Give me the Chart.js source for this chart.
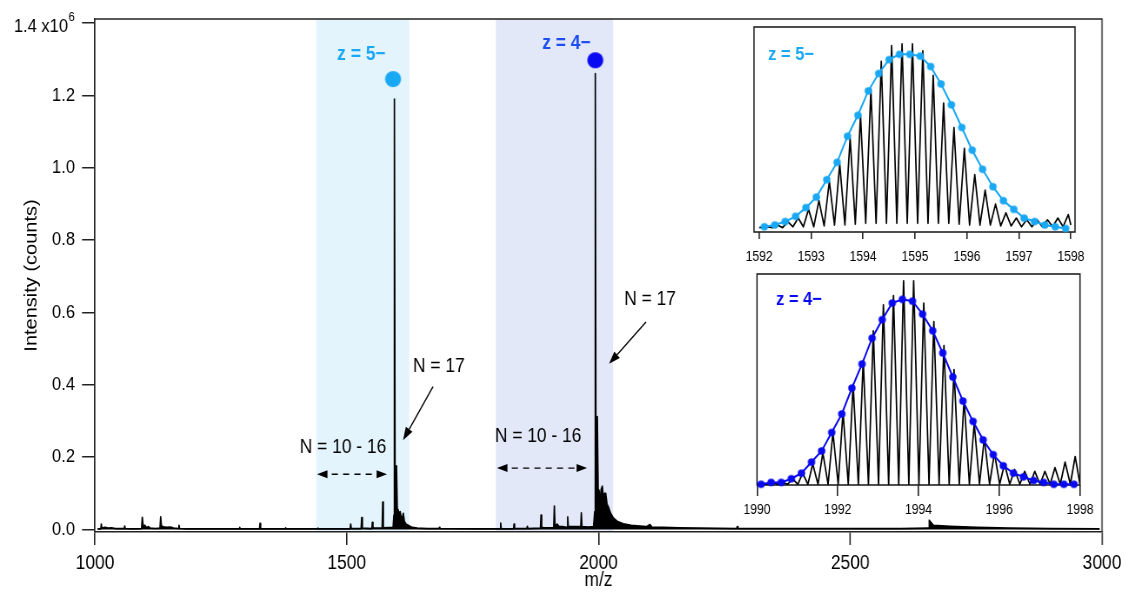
<!DOCTYPE html>
<html>
<head>
<meta charset="utf-8">
<script src="https://cdn.jsdelivr.net/npm/chart.js@4.4.1/dist/chart.umd.min.js"></script>
<style>
  html, body { margin: 0; padding: 0; background: #fff; }
  #wrap { position: relative; width: 1125px; height: 594px; }
  #wrap canvas { position: absolute; }
  #main { left: 0; top: 0; }
  #inset5 { left: 715px; top: 20px; }
  #inset4 { left: 715px; top: 266px; }
</style>
</head>
<body>
<div id="wrap">
  <!-- the figure is drawn wider and squeezed back, like the source figure's narrow lettering -->
  <canvas id="main" width="1294" height="594" style="width:1125px;height:594px"></canvas>
  <canvas id="inset5" width="460" height="250" style="width:400px;height:250px"></canvas>
  <canvas id="inset4" width="460" height="260" style="width:400px;height:260px"></canvas>
</div>
<script>
const FONT = "'Liberation Sans', Arial, Helvetica, sans-serif";
const SX = 1294 / 1125; // horizontal stretch of the drawing surface

// main spectrum axes
const mzTicks = [1000, 1500, 2000, 2500, 3000];
const intensityTicks = [0, 0.2, 0.4, 0.6, 0.8, 1.0, 1.2, 1.4]; // x10^6 counts

// full mass spectrum (intensity in 10^6 counts)
const spectrumMz = [
  1005, 1011.5, 1012.5, 1013.5, 1020, 1026, 1033, 1040, 1050, 1058, 1059, 1060, 1075,
  1092.5, 1093.9, 1095.5, 1099, 1102, 1106, 1110, 1120, 1129, 1130.4, 1132, 1136, 1142, 1150, 1156,
  1165.5, 1166.8, 1168, 1180, 1230, 1286.4, 1287.4, 1288.4, 1326.7, 1327.7, 1328.9, 1378, 1378.7, 1379.5,
  1442, 1443, 1444, 1490, 1506.8, 1507.8, 1509, 1528.5, 1529.7, 1531, 1549.8, 1550.8, 1552,
  1570.2, 1571.4, 1572.6, 1592, 1593.6, 1594.6, 1596, 1598.8, 1600.5, 1602, 1604, 1606, 1608, 1610,
  1612.4, 1614.5, 1618, 1622, 1630, 1640, 1660, 1683, 1684, 1685, 1750,
  1804.7, 1805.7, 1806.8, 1831.2, 1832.2, 1833.3, 1857.6, 1858.6, 1859.7, 1884.6, 1885.8, 1887, 1892,
  1911, 1912.3, 1913.6, 1918, 1922, 1930, 1937.6, 1938.8, 1940, 1950, 1964.7, 1965.9, 1967.2, 1980, 1990,
  1992.5, 1993.6, 1995, 1997.6, 1999.5, 2001, 2003, 2005, 2007.6, 2010, 2012, 2014.3, 2017, 2019.5,
  2024, 2029.5, 2038, 2049.3, 2065, 2082.4, 2095, 2102.3, 2106, 2128.7, 2160, 2200,
  2274.5, 2275.7, 2277, 2400, 2500, 2600, 2655.5, 2657, 2665, 2698, 2751, 2817, 2900, 2995
];
const spectrumIntensity = [
  0.002, 0.002, 0.015, 0.004, 0.006, 0.004, 0.005, 0.003, 0.003, 0.003, 0.010, 0.003, 0.002,
  0.003, 0.034, 0.010, 0.012, 0.006, 0.008, 0.004, 0.003, 0.004, 0.035, 0.010, 0.008, 0.006, 0.007, 0.004,
  0.003, 0.012, 0.003, 0.002, 0.002, 0.002, 0.006, 0.002, 0.002, 0.017, 0.002, 0.002, 0.005, 0.002,
  0.002, 0.004, 0.002, 0.002, 0.002, 0.015, 0.003, 0.003, 0.033, 0.004, 0.003, 0.020, 0.004,
  0.004, 0.076, 0.005, 0.006, 0.04, 1.19, 0.09, 0.176, 0.04, 0.055, 0.04, 0.05, 0.035, 0.03,
  0.045, 0.022, 0.015, 0.012, 0.006, 0.004, 0.003, 0.003, 0.006, 0.003, 0.002,
  0.002, 0.018, 0.003, 0.002, 0.015, 0.003, 0.003, 0.009, 0.003, 0.004, 0.040, 0.006, 0.005,
  0.005, 0.065, 0.012, 0.015, 0.008, 0.008, 0.006, 0.035, 0.008, 0.008, 0.008, 0.046, 0.008, 0.007, 0.008,
  0.05, 1.26, 0.12, 0.312, 0.08, 0.109, 0.07, 0.11, 0.12, 0.08, 0.10, 0.10, 0.07, 0.063,
  0.045, 0.032, 0.022, 0.016, 0.012, 0.010, 0.008, 0.014, 0.007, 0.006, 0.005, 0.004,
  0.003, 0.008, 0.003, 0.003, 0.003, 0.003, 0.004, 0.026, 0.012, 0.009, 0.006, 0.004, 0.003, 0.002
];

// apex markers of the two charge states
const chargeLabels = ["z = 5\u2212", "z = 4\u2212"];
const apexMz = [1592, 1993.6];
const apexIntensity = [1.245, 1.297];

// inset z = 5-: measured isotope profile and fitted distribution (relative)
const inset5Ticks = [1592, 1593, 1594, 1595, 1596, 1597, 1598];
const profile5Mz = [
  1592.00, 1592.15, 1592.25, 1592.35, 1592.45, 1592.55, 1592.65, 1592.75, 1592.85, 1592.95,
  1593.05, 1593.15, 1593.25, 1593.35, 1593.45, 1593.55, 1593.65, 1593.75, 1593.85, 1593.95,
  1594.05, 1594.15, 1594.25, 1594.35, 1594.45, 1594.55, 1594.65, 1594.75, 1594.85, 1594.95,
  1595.05, 1595.15, 1595.25, 1595.35, 1595.45, 1595.55, 1595.65, 1595.75, 1595.85, 1595.95,
  1596.05, 1596.15, 1596.25, 1596.35, 1596.45, 1596.55, 1596.65, 1596.75, 1596.85, 1596.95,
  1597.05, 1597.15, 1597.25, 1597.35, 1597.45, 1597.55, 1597.65, 1597.75, 1597.85, 1597.95, 1598.00
];
const profile5Int = [
  0.005, 0.01, 0.005, 0.02, 0.005, 0.04, 0.01, 0.06, 0.01, 0.11,
  0.01, 0.16, 0.015, 0.27, 0.02, 0.37, 0.02, 0.52, 0.025, 0.65,
  0.03, 0.80, 0.03, 0.96, 0.03, 1.05, 0.03, 1.06, 0.03, 1.06,
  0.03, 1.02, 0.03, 0.88, 0.03, 0.72, 0.03, 0.58, 0.025, 0.46,
  0.02, 0.31, 0.02, 0.22, 0.02, 0.14, 0.015, 0.09, 0.015, 0.06,
  0.01, 0.05, 0.01, 0.05, 0.01, 0.05, 0.01, 0.06, 0.01, 0.08, 0.02
];
const fit5Mz = [
  1592.1, 1592.3, 1592.5, 1592.7, 1592.9, 1593.1, 1593.3, 1593.5, 1593.7, 1593.9,
  1594.1, 1594.3, 1594.5, 1594.7, 1594.9, 1595.1, 1595.3, 1595.5, 1595.7, 1595.9,
  1596.1, 1596.3, 1596.5, 1596.7, 1596.9, 1597.1, 1597.3, 1597.5, 1597.7, 1597.9
];
const fit5Int = [
  0.01, 0.02, 0.04, 0.07, 0.12, 0.18, 0.28, 0.38, 0.53, 0.65,
  0.79, 0.89, 0.97, 1.00, 1.00, 0.99, 0.93, 0.83, 0.71, 0.58,
  0.45, 0.34, 0.24, 0.16, 0.11, 0.06, 0.04, 0.02, 0.01, 0.00
];

// inset z = 4-
const inset4Ticks = [1990, 1992, 1994, 1996, 1998];
const profile4Mz = [
  1990.00, 1990.13, 1990.26, 1990.38, 1990.51, 1990.63, 1990.76, 1990.88, 1991.01, 1991.13,
  1991.26, 1991.38, 1991.51, 1991.63, 1991.76, 1991.88, 1992.01, 1992.13, 1992.26, 1992.38,
  1992.51, 1992.63, 1992.76, 1992.88, 1993.01, 1993.13, 1993.26, 1993.38, 1993.51, 1993.63,
  1993.76, 1993.88, 1994.01, 1994.13, 1994.26, 1994.38, 1994.51, 1994.63, 1994.76, 1994.88,
  1995.01, 1995.13, 1995.26, 1995.38, 1995.51, 1995.63, 1995.76, 1995.88, 1996.01, 1996.13,
  1996.26, 1996.38, 1996.51, 1996.63, 1996.76, 1996.88, 1997.01, 1997.13, 1997.26, 1997.38,
  1997.51, 1997.63, 1997.76, 1997.88, 1998.00
];
const profile4Int = [
  0, 0.005, 0, 0.01, 0, 0.01, 0, 0.03, 0, 0.06,
  0, 0.11, 0, 0.17, 0, 0.28, 0, 0.39, 0, 0.54,
  0, 0.67, 0, 0.83, 0, 0.97, 0, 1.02, 0, 1.10,
  0, 1.10, 0, 0.98, 0, 0.88, 0, 0.75, 0, 0.62,
  0, 0.46, 0, 0.33, 0, 0.25, 0, 0.17, 0, 0.11,
  0, 0.08, 0, 0.07, 0, 0.07, 0, 0.07, 0, 0.09,
  0, 0.12, 0, 0.15, 0
];
const fit4Mz = [
  1990.10, 1990.35, 1990.60, 1990.85, 1991.10, 1991.35, 1991.60, 1991.85, 1992.10, 1992.35,
  1992.60, 1992.85, 1993.10, 1993.35, 1993.60, 1993.85, 1994.10, 1994.35, 1994.60, 1994.85,
  1995.10, 1995.35, 1995.60, 1995.85, 1996.10, 1996.35, 1996.60, 1996.85, 1997.10, 1997.35,
  1997.60, 1997.85
];
const fit4Int = [
  0.00, 0.01, 0.01, 0.03, 0.06, 0.12, 0.18, 0.28, 0.38, 0.52,
  0.65, 0.79, 0.89, 0.98, 1.00, 0.99, 0.92, 0.83, 0.71, 0.58,
  0.45, 0.34, 0.24, 0.16, 0.10, 0.06, 0.04, 0.02, 0.01, 0.00,
  0.00, 0.00
];

const CYAN = "#19a8f3";
const BLUE = "#0a0af0";

const toPoints = (xs, ys) => xs.map((x, i) => ({ x: x, y: ys[i] }));

// round dot for the stretched surface (wider by SX so it shows as a circle)
function dot(color, r) {
  const c = document.createElement("canvas");
  const w = Math.ceil(2 * r * SX) + 2, h = Math.ceil(2 * r) + 2;
  c.width = w;
  c.height = h;
  const g = c.getContext("2d");
  g.fillStyle = color;
  g.beginPath();
  g.ellipse(w / 2, h / 2, r * SX, r, 0, 0, Math.PI * 2);
  g.fill();
  return c;
}

// annotation layout (data coordinates)
const bands = [
  { from: 1439, to: 1624, color: "#e3f4fd" },
  { from: 1796, to: 2029, color: "#e3e8f9" }
];
const notes = [
  { text: "N = 17", x: 1683, y: 0.452 },
  { text: "N = 10 - 16", x: 1492.6, y: 0.228 },
  { text: "N = 10 - 16", x: 1880, y: 0.256 },
  { text: "N = 17", x: 2102.3, y: 0.635 }
];
const chargeNotes = [
  { x: 1481, y: 1.314, color: CYAN },
  { x: 1888.4, y: 1.344, color: "#1d4ef0" }
];
const arrows = [
  { from: [1671.3, 0.395], to: [1611.7, 0.247] },
  { from: [2094.3, 0.574], to: [2020.9, 0.458] }
];
const spans = [
  { from: 1440.9, to: 1579.9, y: 0.153 },
  { from: 1798.4, to: 1977.2, y: 0.170 }
];

function head(ctx, x1, y1, x2, y2, len, half) {
  const a = Math.atan2(y2 - y1, x2 - x1);
  const bx = x2 - len * Math.cos(a), by = y2 - len * Math.sin(a);
  ctx.beginPath();
  ctx.moveTo(x2, y2);
  ctx.lineTo(bx + half * Math.sin(a), by - half * Math.cos(a));
  ctx.lineTo(bx - half * Math.sin(a), by + half * Math.cos(a));
  ctx.closePath();
  ctx.fill();
  return [bx, by];
}

const mainDecor = {
  id: "mainDecor",
  beforeDatasetsDraw(chart) {
    const { ctx, chartArea: a, scales: { x } } = chart;
    ctx.save();
    bands.forEach(b => {
      const x1 = x.getPixelForValue(b.from), x2 = x.getPixelForValue(b.to);
      ctx.fillStyle = b.color;
      ctx.fillRect(x1, a.top, x2 - x1, a.bottom - a.top - 1);
    });
    ctx.restore();
  },
  afterDatasetsDraw(chart) {
    const { ctx, scales: { x, y } } = chart;
    ctx.save();
    ctx.fillStyle = "#000";
    ctx.strokeStyle = "#000";
    ctx.font = "20px " + FONT;
    ctx.textAlign = "center";
    ctx.textBaseline = "middle";
    notes.forEach(n => ctx.fillText(n.text, x.getPixelForValue(n.x), y.getPixelForValue(n.y)));

    ctx.lineWidth = 1.4;
    arrows.forEach(ar => {
      const x1 = x.getPixelForValue(ar.from[0]), y1 = y.getPixelForValue(ar.from[1]);
      const x2 = x.getPixelForValue(ar.to[0]), y2 = y.getPixelForValue(ar.to[1]);
      const [bx, by] = head(ctx, x1, y1, x2, y2, 13, 4.5);
      ctx.beginPath();
      ctx.moveTo(x1, y1);
      ctx.lineTo(bx, by);
      ctx.stroke();
    });

    spans.forEach(s => {
      const x1 = x.getPixelForValue(s.from), x2 = x.getPixelForValue(s.to), yy = y.getPixelForValue(s.y);
      const [ax] = head(ctx, x2, yy, x1, yy, 12, 4);
      const [bx] = head(ctx, x1, yy, x2, yy, 12, 4);
      ctx.setLineDash([7, 6]);
      ctx.beginPath();
      ctx.moveTo(ax + 5, yy);
      ctx.lineTo(bx - 2, yy);
      ctx.stroke();
      ctx.setLineDash([]);
    });

    ctx.font = "bold 20px " + FONT;
    ctx.textAlign = "left";
    chargeNotes.forEach((c, i) => {
      ctx.fillStyle = c.color;
      ctx.fillText(chargeLabels[i], x.getPixelForValue(c.x), y.getPixelForValue(c.y));
    });
    ctx.restore();
  },
  afterDraw(chart) {
    const { ctx, chartArea: a, scales: { y } } = chart;
    ctx.save();
    ctx.strokeStyle = "#222";
    ctx.lineWidth = 1.5;
    ctx.beginPath();
    ctx.moveTo(a.left, a.top);
    ctx.lineTo(a.right, a.top);
    ctx.lineTo(a.right, a.bottom);
    ctx.stroke();

    // top tick label with exponent
    const ty = y.getPixelForValue(1.4);
    ctx.fillStyle = "#000";
    ctx.textBaseline = "middle";
    ctx.textAlign = "right";
    ctx.font = "19px " + FONT;
    ctx.fillText("1.4 x10", 68 * SX, ty + 4);
    ctx.textAlign = "left";
    ctx.font = "13px " + FONT;
    ctx.fillText("6", 68.5 * SX, ty - 6);
    ctx.restore();
  }
};

new Chart(document.getElementById("main"), {
  type: "line",
  data: {
    datasets: [
      {
        label: "apex",
        data: toPoints(apexMz, apexIntensity),
        showLine: false,
        pointStyle: [dot(CYAN, 8), dot(BLUE, 8)],
        pointRadius: 8,
        order: 0
      },
      {
        label: "spectrum",
        data: toPoints(spectrumMz, spectrumIntensity),
        borderColor: "#000",
        backgroundColor: "#000",
        borderWidth: 1.7,
        borderJoinStyle: "round",
        pointRadius: 0,
        fill: "origin",
        tension: 0,
        order: 1
      }
    ]
  },
  options: {
    responsive: false,
    animation: false,
    devicePixelRatio: 1,
    events: [],
    layout: { padding: { left: 0, top: 19, right: 23 * SX, bottom: 0 }, autoPadding: false },
    plugins: { legend: { display: false }, tooltip: { enabled: false } },
    scales: {
      x: {
        type: "linear",
        min: 1000,
        max: 3000,
        afterBuildTicks: s => { s.ticks = mzTicks.map(v => ({ value: v })); },
        afterFit: s => { s.height = 62; s.paddingLeft = 0; s.paddingRight = 0; },
        border: { display: true, color: "#222", width: 1.5 },
        grid: { drawOnChartArea: false, tickLength: 13, color: "#222", lineWidth: 1.6 },
        ticks: { color: "#000", font: { family: FONT, size: 20 }, padding: 6, maxRotation: 0, autoSkip: false, callback: v => String(v) },
        title: { display: true, text: "m/z", color: "#000", font: { family: FONT, size: 20 }, padding: { top: 0, bottom: 2 } }
      },
      y: {
        min: -0.0066,
        max: 1.411,
        afterBuildTicks: s => { s.ticks = intensityTicks.map(v => ({ value: v })); },
        afterFit: s => { s.width = 95 * SX; s.paddingTop = 0; s.paddingBottom = 0; },
        border: { display: true, color: "#222", width: 1.7 },
        grid: { drawOnChartArea: false, tickLength: 13 * SX, color: "#222", lineWidth: 1.5 },
        ticks: { color: "#000", font: { family: FONT, size: 19 }, padding: 7 * SX, callback: v => (v === 1.4 ? "" : v.toFixed(1)) },
        title: { display: true, text: "Intensity (counts)", color: "#000", font: { family: FONT, size: 20 }, padding: { top: 32 * SX - 12, bottom: 0 } }
      }
    }
  },
  plugins: [mainDecor]
});

function insetDecor(label, color, at) {
  return {
    id: "insetDecor",
    beforeDraw(chart) {
      const { ctx, chartArea: a } = chart;
      ctx.save();
      ctx.fillStyle = "#fff";
      ctx.fillRect(a.left, a.top, a.right - a.left, a.bottom - a.top);
      ctx.restore();
    },
    beforeDatasetsDraw(chart) {
      const { ctx, chartArea: a } = chart;
      ctx.save();
      ctx.strokeStyle = "#222";
      ctx.lineWidth = 1.6;
      ctx.strokeRect(a.left, a.top, a.right - a.left, a.bottom - a.top);
      ctx.restore();
    },
    afterDraw(chart) {
      const { ctx, scales: { x, y } } = chart;
      ctx.save();
      ctx.fillStyle = color;
      ctx.font = "bold 19px " + FONT;
      ctx.textBaseline = "middle";
      ctx.fillText(label, x.getPixelForValue(at[0]), y.getPixelForValue(at[1]));
      ctx.restore();
    }
  };
}

function makeInset(id, o) {
  new Chart(document.getElementById(id), {
    type: "line",
    data: {
      datasets: [
        {
          label: "fit",
          data: toPoints(o.fitMz, o.fitInt),
          borderColor: o.color,
          backgroundColor: o.color,
          borderWidth: 2,
          pointStyle: dot(o.color, 3.7),
          pointRadius: 3.7,
          tension: 0,
          clip: false,
          order: 0
        },
        {
          label: "profile",
          data: toPoints(o.profMz, o.profInt),
          borderColor: "#000",
          borderWidth: 1.7,
          borderJoinStyle: "round",
          pointRadius: 0,
          tension: 0,
          order: 1
        }
      ]
    },
    options: {
      responsive: false,
      animation: false,
      devicePixelRatio: 1,
      events: [],
      layout: { padding: o.padding, autoPadding: false },
      plugins: { legend: { display: false }, tooltip: { enabled: false } },
      scales: {
        x: {
          type: "linear",
          min: o.xMin,
          max: o.xMax,
          afterBuildTicks: s => { s.ticks = o.ticks.map(v => ({ value: v })); },
          afterFit: s => { s.height = o.axisHeight; s.paddingLeft = 0; s.paddingRight = 0; },
          border: { display: false },
          grid: { drawOnChartArea: false, tickLength: o.tickLength, color: "#222", lineWidth: 1.6 },
          ticks: { color: "#000", font: { family: FONT, size: 14 }, padding: o.tickPadding, maxRotation: 0, autoSkip: false, callback: v => String(v) }
        },
        y: { display: false, min: o.yMin, max: o.yMax }
      }
    },
    plugins: [insetDecor(o.label, o.color, o.labelAt)]
  });
}

makeInset("inset5", {
  fitMz: fit5Mz, fitInt: fit5Int, profMz: profile5Mz, profInt: profile5Int,
  ticks: inset5Ticks, xMin: 1591.9, xMax: 1598.08, yMin: -0.02, yMax: 1.157,
  padding: { left: 39 * SX, right: 40 * SX, top: 7, bottom: 0 }, axisHeight: 38, tickLength: 7, tickPadding: 10,
  color: CYAN, label: chargeLabels[0], labelAt: [1592.17, 1.0]
});

makeInset("inset4", {
  fitMz: fit4Mz, fitInt: fit4Int, profMz: profile4Mz, profInt: profile4Int,
  ticks: inset4Ticks, xMin: 1990, xMax: 1998, yMin: -0.004, yMax: 1.137,
  padding: { left: 42 * SX, right: 35 * SX, top: 8, bottom: 0 }, axisHeight: 41, tickLength: 11, tickPadding: 6,
  color: BLUE, label: chargeLabels[1], labelAt: [1990.47, 1.0]
});
</script>
</body>
</html>
